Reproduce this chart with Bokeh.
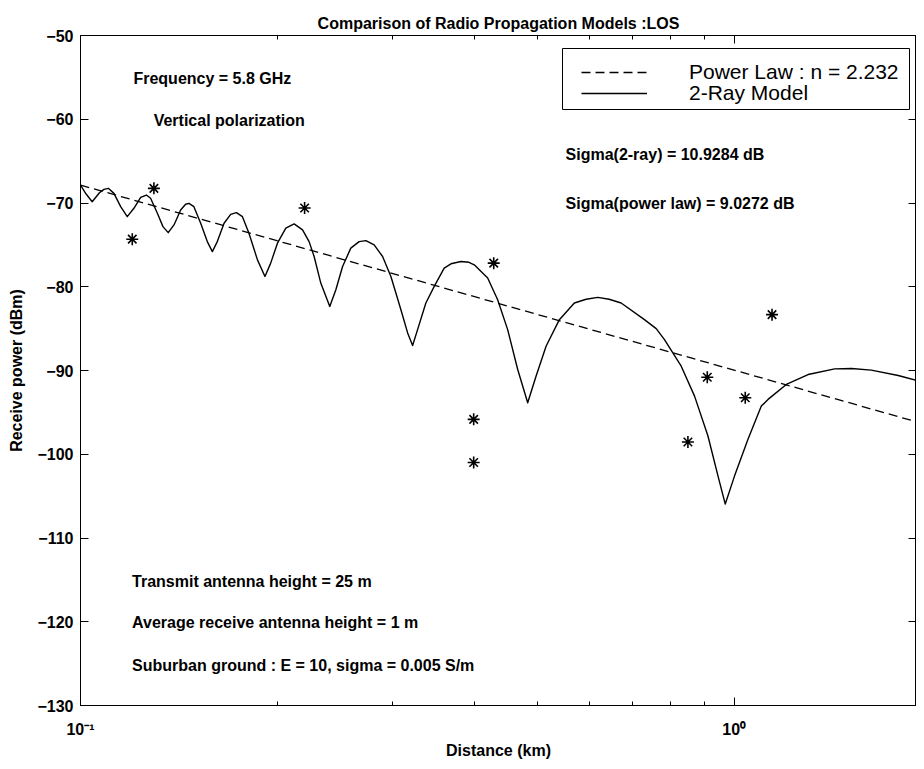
from bokeh.plotting import figure
from bokeh.models import (Range1d, FixedTicker, LogAxis, LinearAxis, Legend,
                          LegendItem, ColumnDataSource, BoxAnnotation)
from bokeh.core.properties import value
from bokeh.embed import file_html
from bokeh.resources import INLINE

# ---------------- data ----------------
ray_distance_km = [0.1000, 0.1020, 0.1042, 0.1069, 0.1086, 0.1103, 0.1125, 0.1152,
                   0.1179, 0.1207, 0.1236, 0.1261, 0.1280, 0.1311, 0.1337, 0.1362,
                   0.1390, 0.1423, 0.1448, 0.1465, 0.1491, 0.1527, 0.1563, 0.1591,
                   0.1619, 0.1658, 0.1697, 0.1732, 0.1769, 0.1810, 0.1865, 0.1915,
                   0.1954, 0.2001, 0.2061, 0.2122, 0.2186, 0.2237, 0.2277, 0.2331,
                   0.2406, 0.2458, 0.2517, 0.2591, 0.2668, 0.2732, 0.2813, 0.2898,
                   0.2984, 0.3091, 0.3165, 0.3221, 0.3278, 0.3375, 0.3476, 0.3600,
                   0.3687, 0.3819, 0.3928, 0.4002, 0.4196, 0.4346, 0.4502, 0.4664,
                   0.4831, 0.4975, 0.5154, 0.5401, 0.5694, 0.5935, 0.6184, 0.6435,
                   0.6714, 0.7288, 0.7596, 0.7821, 0.8296, 0.8695, 0.9115, 0.9442,
                   0.9688, 1.0011, 1.0495, 1.1000, 1.1263, 1.2012, 1.2969, 1.4244,
                   1.5110, 1.6204, 1.7813, 1.9550]
ray_power_dbm = [-67.86, -68.93, -69.85, -68.77, -68.37, -68.25, -68.85, -70.44,
                 -71.63, -70.63, -69.32, -69.05, -69.44, -71.23, -72.82, -73.54,
                 -72.62, -70.83, -70.15, -70.04, -70.44, -72.42, -74.61, -75.80,
                 -74.61, -72.42, -71.35, -71.15, -71.63, -73.61, -76.79, -78.77,
                 -77.18, -74.80, -73.01, -72.50, -73.21, -74.61, -76.39, -79.56,
                 -82.35, -80.36, -77.58, -75.39, -74.61, -74.49, -75.00, -76.39,
                 -78.77, -82.74, -85.51, -87.02, -85.12, -81.94, -79.96, -77.77,
                 -77.26, -76.99, -77.08, -77.38, -78.96, -81.55, -85.12, -89.88,
                 -93.85, -90.68, -87.11, -83.93, -81.94, -81.49, -81.27, -81.49,
                 -81.94, -83.93, -85.00, -86.31, -89.49, -93.06, -97.82, -102.58,
                 -105.95, -102.58, -98.21, -94.25, -93.45, -91.67, -90.48, -89.80,
                 -89.76, -89.96, -90.60, -91.44]

law_distance_km = [0.1, 1.955]
law_power_dbm = [-67.86, -96.40]

meas_distance_km = [0.1200, 0.1295, 0.2202, 0.3994, 0.3994, 0.4286,
                    0.8494, 0.9093, 1.0395, 1.1423]
meas_power_dbm = [-74.32, -68.25, -70.60, -95.83, -100.99, -77.18,
                  -98.54, -90.80, -93.25, -83.33]

x_major_ticks = [0.1, 1.0]
x_major_labels = ["10\u207b\u00b9", "10\u2070"]
x_minor_ticks = [0.2, 0.3, 0.4, 0.5, 0.6, 0.7, 0.8, 0.9]
y_ticks = [-130, -120, -110, -100, -90, -80, -70, -60, -50]
y_labels = ["\u2212130", "\u2212120", "\u2212110", "\u2212100", "\u221290",
            "\u221280", "\u221270", "\u221260", "\u221250"]

legend_labels = ["Power Law : n = 2.232", "2-Ray Model"]

note_texts = ["Frequency = 5.8 GHz", "Vertical polarization",
              "Sigma(2-ray) = 10.9284 dB", "Sigma(power law) =  9.0272 dB",
              "Transmit antenna height = 25 m",
              "Average receive antenna height = 1 m",
              "Suburban ground : E = 10, sigma = 0.005 S/m"]
note_x = [0.1205, 0.1294, 0.552, 0.552, 0.1199, 0.1199, 0.1199]
note_y = [-55.1, -60.1, -64.2, -70.0, -115.2, -120.1, -125.2]

title_text = "Comparison of Radio Propagation Models :LOS"

FONT = "Liberation Sans"

# ---------------- figure ----------------
p = figure(width=916, height=761, x_axis_type="log",
           x_range=Range1d(0.1, 1.90), y_range=Range1d(-130, -50),
           output_backend="svg", toolbar_location=None,
           min_border_left=80, min_border_right=0, min_border_top=35,
           min_border_bottom=54, background_fill_color="white",
           border_fill_color="white")

p.title.text = title_text
p.title.align = "center"
p.title.vertical_align = "middle"
p.title.offset = 7
p.title.text_font = FONT
p.title.text_font_size = "16px"
p.title.text_font_style = "bold"
p.title.text_color = "black"
p.title.standoff = 6

p.outline_line_color = "black"
p.outline_line_width = 1
p.xgrid.visible = False
p.ygrid.visible = False

xt = FixedTicker(ticks=x_major_ticks, minor_ticks=x_minor_ticks)
yt = FixedTicker(ticks=y_ticks)

xa = p.xaxis[0]
xa.ticker = xt
xa.major_label_overrides = dict(zip(x_major_ticks, x_major_labels))
xa.axis_label = "Distance (km)"
ya = p.yaxis[0]
ya.ticker = yt
ya.major_label_overrides = dict(zip(y_ticks, y_labels))
ya.axis_label = "Receive power (dBm)"

for ax in (xa, ya):
    ax.axis_line_color = "black"
    ax.major_tick_in = 8
    ax.major_tick_out = 0
    ax.minor_tick_in = 4
    ax.minor_tick_out = 0
    ax.major_tick_line_color = "black"
    ax.minor_tick_line_color = "black"
    ax.major_label_text_font = FONT
    ax.major_label_text_font_size = "16px"
    ax.major_label_text_font_style = "bold"
    ax.major_label_text_color = "black"
    ax.axis_label_text_font = FONT
    ax.axis_label_text_font_size = "16px"
    ax.axis_label_text_font_style = "bold"
    ax.axis_label_text_color = "black"
xa.major_label_standoff = 15
xa.axis_label_standoff = 1
ya.major_label_standoff = 7
ya.axis_label_standoff = 9

top_axis = LogAxis(ticker=xt, major_tick_in=8, major_tick_out=0,
                   minor_tick_in=4, minor_tick_out=0,
                   major_label_overrides={t: "" for t in x_major_ticks},
                   major_label_text_font_size="1px", major_label_standoff=7,
                   axis_line_color="black")
right_axis = LinearAxis(ticker=yt, major_tick_in=8, major_tick_out=0,
                        minor_tick_out=0,
                        major_label_overrides={t: "" for t in y_ticks},
                        major_label_text_font_size="1px",
                        major_label_standoff=0, axis_line_color="black")
p.add_layout(top_axis, "above")
p.add_layout(right_axis, "right")

# ---------------- marks ----------------
law_r = p.line(law_distance_km, law_power_dbm, line_color="black",
               line_width=1.3, line_dash="9 5")
ray_r = p.line(ray_distance_km, ray_power_dbm, line_color="black", line_width=1.4,
               line_join="round")
p.scatter(meas_distance_km, meas_power_dbm, marker="asterisk", size=12,
          line_color="black", line_width=1.6)

notes = ColumnDataSource(dict(x=note_x, y=note_y, t=note_texts))
p.text(x="x", y="y", text="t", source=notes, text_font=value(FONT),
       text_font_size="16px", text_font_style="bold", text_color="black",
       text_baseline="middle", text_align="left")

# ---------------- legend: framed box with two tightly spaced rows ----------------
p.add_layout(BoxAnnotation(left=482, right=829, bottom=596, top=657,
                           left_units="screen", right_units="screen",
                           bottom_units="screen", top_units="screen",
                           fill_color="white", fill_alpha=1.0,
                           line_color="black", line_width=1, line_alpha=1.0,
                           level="annotation"))

for label, rend, ybot in zip(legend_labels, [law_r, ray_r], [621, 600]):
    p.add_layout(Legend(items=[LegendItem(label=label, renderers=[rend])],
                        location=(501, ybot), orientation="vertical",
                        label_text_font=FONT, label_text_font_size="21px",
                        label_text_color="black", label_height=18,
                        label_standoff=42, glyph_width=66, glyph_height=18,
                        padding=0, spacing=0, margin=0,
                        border_line_color=None, background_fill_alpha=0.0))

open("out.html", "w").write(file_html(p, INLINE))
